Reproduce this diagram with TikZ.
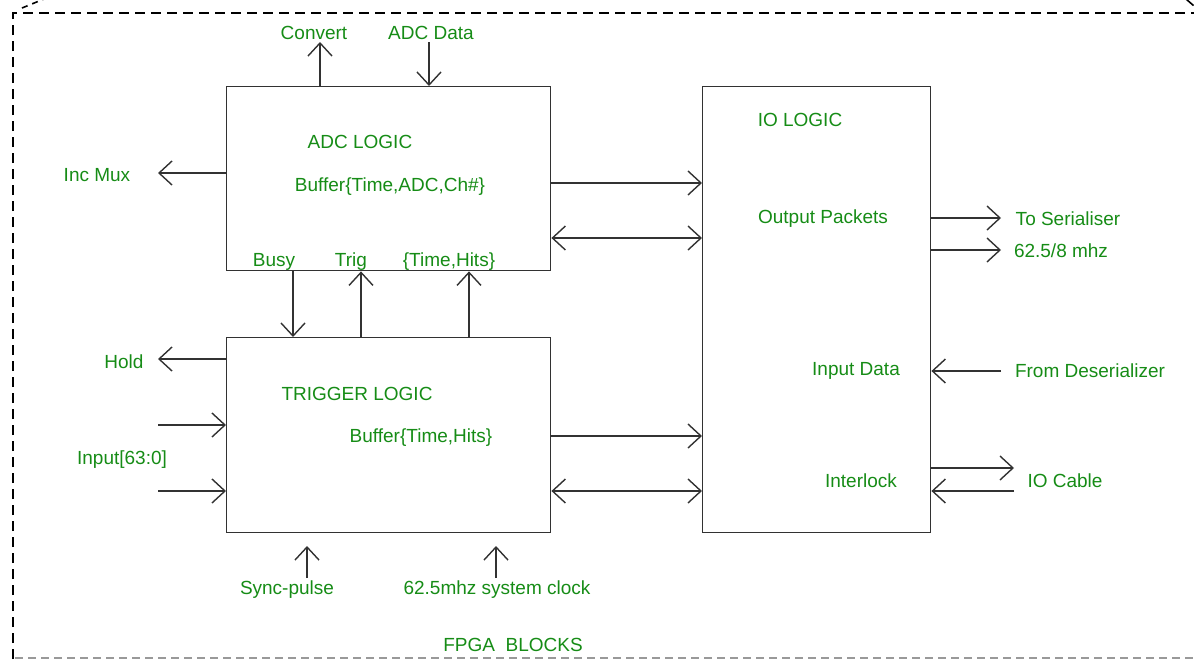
\documentclass[tikz,border=0pt]{standalone}
\usepackage{fontspec}
\setmainfont{Liberation Sans}
\usetikzlibrary{arrows.meta}
\definecolor{lbl}{RGB}{22,140,22}
\definecolor{ln}{RGB}{50,50,50}
\tikzset{
  x=1pt, y=-1pt,
  blk/.style={draw=ln, line width=1.4pt, inner sep=0pt, anchor=north west},
  txt/.style={text=lbl, font=\fontsize{19}{21}\selectfont, inner sep=0pt},
  tip/.style={Straight Barb[length=13pt,width=24pt,line width=1.4pt]},
  sig/.style={draw=ln, line width=1.4pt, -{Straight Barb[length=13pt,width=24pt,line width=1.4pt]}},
  bisig/.style={draw=ln, line width=1.4pt, {Straight Barb[length=13pt,width=24pt,line width=1.4pt]}-{Straight Barb[length=13pt,width=24pt,line width=1.4pt]}},
  frame/.style={black, line width=2pt, dash pattern=on 10pt off 6pt},
}
\begin{document}
\begin{tikzpicture}
\useasboundingbox (0,0) rectangle (1194,659);
% outer FPGA frame
\draw[frame] (13,659) -- (13,13) -- (1194,13);
\draw[frame, line width=1.6pt, dash pattern=on 6pt off 5pt] (22,8) -- (44,-1);
\draw[frame, line width=1.6pt] (1186,-1) -- (1194,6);
\draw[black!40, line width=1.2pt, dash pattern=on 8pt off 5pt] (15,658) -- (1194,658);
\node[txt] (fpga) at (513,645) {FPGA\ \ BLOCKS};

% blocks
\node[blk, minimum width=324pt, minimum height=184pt] (adc) at (226,86) {};
\node[blk, minimum width=324pt, minimum height=195pt] (trg) at (226,337) {};
\node[blk, minimum width=228pt, minimum height=446pt] (io) at (702,86) {};

% block texts
\node[txt] (adct) at (360,142) {ADC LOGIC};
\node[txt] (adcb) at (390,187) {Buffer\{Time,ADC,Ch\#\}};
\node[txt] (trgt) at (357,394) {TRIGGER LOGIC};
\node[txt] (trgb) at (421,438) {Buffer\{Time,Hits\}};
\node[txt] (iot) at (800,120) {IO LOGIC};
\node[txt] (iop) at (823,219) {Output Packets};
\node[txt] (ioi) at (856,371) {Input Data};
\node[txt] (iol) at (861,481) {Interlock};

% external labels
\node[txt] (conv) at (314,33) {Convert};
\node[txt] (adcd) at (431,33) {ADC Data};
\node[txt] (incm) at (97,175) {Inc Mux};
\node[txt] (busy) at (274,262) {Busy};
\node[txt] (trig) at (351,262) {Trig};
\node[txt] (tmh) at (449,262) {\{Time,Hits\}};
\node[txt] (hold) at (124,362) {Hold};
\node[txt] (inp) at (122,460) {Input[63:0]};
\node[txt] (sync) at (287,590) {Sync-pulse};
\node[txt] (clk) at (497,590) {62.5mhz system clock};
\node[txt] (ser) at (1068,219) {To Serialiser};
\node[txt] (frq) at (1061,251) {62.5/8 mhz};
\node[txt] (des) at (1090,371) {From Deserializer};
\node[txt] (cab) at (1065,481) {IO Cable};

% connector end points
\coordinate (c1) at (320,42);
\coordinate (c2) at (429,42);
\coordinate (c3) at (158,173);
\coordinate (c4) at (158,359);
\coordinate (c5a) at (158,425);
\coordinate (c5b) at (158,491);
\coordinate (c6) at (307,578);
\coordinate (c7) at (496,578);
\coordinate (c8) at (1001,218);
\coordinate (c9) at (1001,250);
\coordinate (c10) at (1001,371);
\coordinate (c11) at (1014,468);
\coordinate (c12) at (1014,491);

% ADC logic signals
\draw[sig] (adc.north west -| c1) -- (c1);
\draw[sig] (c2) -- (adc.north west -| c2);
\draw[sig] (adc.west |- c3) -- (c3);
\draw[sig] (adc.east |- 0,183) -- (io.west |- 0,183);
\draw[bisig] (adc.east |- 0,238) -- (io.west |- 0,238);

% ADC <-> trigger
\draw[sig] (adc.south west -| 293,0) -- (trg.north west -| 293,0);
\draw[sig] (trg.north west -| 361,0) -- (adc.south west -| 361,0);
\draw[sig] (trg.north west -| 469,0) -- (adc.south west -| 469,0);

% trigger logic signals
\draw[sig] (trg.west |- c4) -- (c4);
\draw[sig] (c5a) -- (trg.west |- c5a);
\draw[sig] (c5b) -- (trg.west |- c5b);
\draw[sig] (c6) -- (307,546);
\draw[sig] (c7) -- (496,546);
\draw[sig] (trg.east |- 0,436) -- (io.west |- 0,436);
\draw[bisig] (trg.east |- 0,491) -- (io.west |- 0,491);

% IO logic signals
\draw[sig] (io.east |- c8) -- (c8);
\draw[sig] (io.east |- c9) -- (c9);
\draw[sig] (c10) -- (io.east |- c10);
\draw[sig] (io.east |- c11) -- (c11);
\draw[sig] (c12) -- (io.east |- c12);
\end{tikzpicture}
\end{document}
